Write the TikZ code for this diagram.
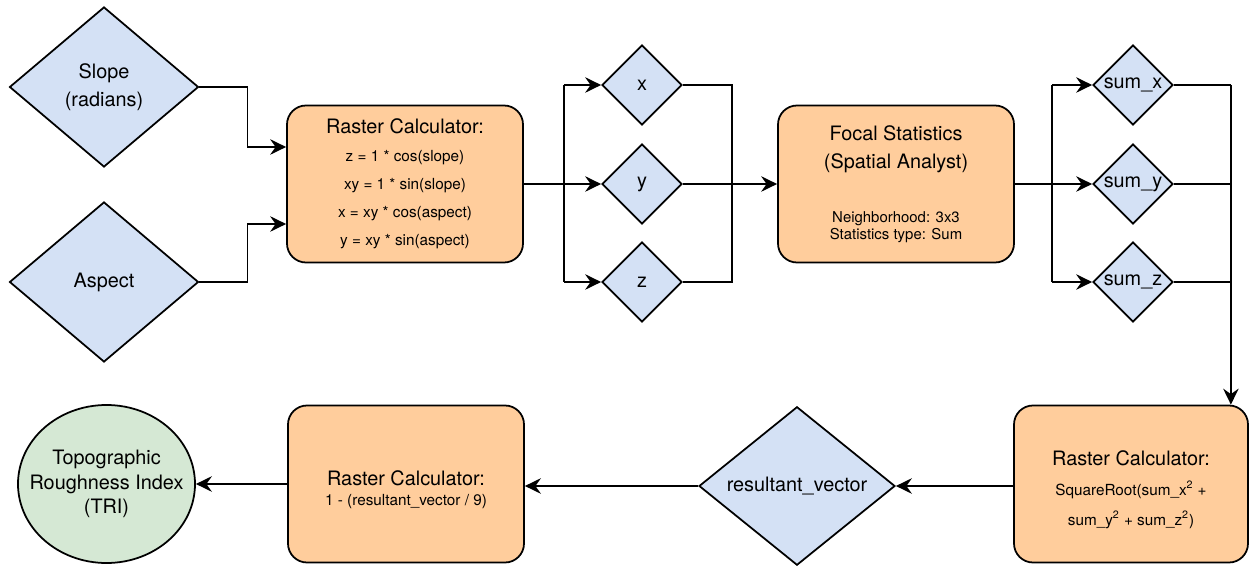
\documentclass[tikz,border=0pt]{standalone}
\usepackage{fontspec}
\setmainfont{TeX Gyre Heros}
\usetikzlibrary{arrows.meta, calc, positioning, shapes.geometric}
\definecolor{datacol}{RGB}{212, 225, 245}
\definecolor{toolcol}{RGB}{255, 205, 156}
\definecolor{outcol}{RGB}{213, 232, 212}
\definecolor{linecol}{RGB}{0, 0, 0}
\newcommand{\hd}{\fontsize{11.3}{14}\selectfont}
\newcommand{\lift}{\rule{0pt}{15pt}}
\tikzset{
  blk/.style    = {draw=linecol, line width=1pt, align=center},
  data/.style   = {blk, diamond, fill=datacol, inner sep=0pt,
                   font=\fontsize{11.3}{16}\selectfont},
  tool/.style   = {blk, rectangle, rounded corners=0.38cm, fill=toolcol,
                   minimum width=4.72cm, minimum height=3.14cm, inner sep=2pt},
  result/.style = {blk, ellipse, fill=outcol, inner sep=0pt,
                   minimum width=3.54cm, minimum height=3.16cm},
  flow/.style   = {-{Stealth[length=3.2mm, width=3.1mm, inset=1.1mm]},
                   draw=linecol, line width=1pt},
  link/.style   = {draw=linecol, line width=1pt},
}
\begin{document}
\begin{tikzpicture}

  \useasboundingbox (0,0) rectangle (25,-11.38);

  %% ---------------- inputs ----------------
  \node[data, minimum width=3.78cm, minimum height=3.2cm] (slope) at (2.08,-1.74)
       {Slope\\(radians)};
  \node[data, minimum width=3.78cm, minimum height=3.2cm] (aspect) at (2.08,-5.64)
       {Aspect};

  %% ---------------- first raster calculator ----------------
  \node[tool, font=\fontsize{8.7}{16}\selectfont] (calcA) at (8.1,-3.68)
       {{\hd Raster Calculator:}\\
        z = 1 * cos(slope)\\
        xy = 1 * sin(slope)\\
        x = xy * cos(aspect)\\
        y = xy * sin(aspect)};

  \draw[flow] (slope.east) -- ++(0.96,0) |- ([yshift=0.74cm]calcA.west);
  \draw[flow] (aspect.east) -- ++(0.96,0) |- ([yshift=-0.8cm]calcA.west);

  %% ---------------- x, y, z ----------------
  \foreach \n/\y/\t in {xd/-1.70/x, yd/-3.68/y, zd/-5.64/z} {
    \node[data, minimum width=1.6cm, minimum height=1.6cm] (\n) at (12.84,\y) {\t};
  }

  \draw[link] (calcA.east) -- ([xshift=-0.74cm]yd.west);
  \draw[link] ([xshift=-0.74cm]xd.west) -- ([xshift=-0.74cm]zd.west);
  \foreach \n in {xd, yd, zd}
    \draw[flow] ([xshift=-0.74cm]\n.west) -- (\n.west);
  \draw[link] (xd.east) -- ++(0.98,0) |- (zd.east);

  %% ---------------- focal statistics ----------------
  \node[tool, font=\fontsize{8.5}{9.6}\selectfont] (focal) at (17.92,-3.68)
       {{\hd Focal Statistics}\\[6.3pt]
        {\hd (Spatial Analyst)}\\[21pt]
        Neighborhood: 3x3\\
        Statistics type: Sum};
  \draw[flow] (yd.east) -- (focal.west);

  %% ---------------- sums ----------------
  \foreach \n/\y/\t in {sx/-1.70/sum\_x, sy/-3.68/sum\_y, sz/-5.64/sum\_z} {
    \node[data, minimum width=1.6cm, minimum height=1.6cm] (\n) at (22.66,\y) {\t};
  }
  \draw[link] (focal.east) -- ([xshift=-0.8cm]sy.west);
  \draw[link] ([xshift=-0.8cm]sx.west) -- ([xshift=-0.8cm]sz.west);
  \foreach \n in {sx, sy, sz}
    \draw[flow] ([xshift=-0.8cm]\n.west) -- (\n.west);

  %% ---------------- second raster calculator ----------------
  \node[tool, minimum width=4.68cm, font=\fontsize{8.7}{17}\selectfont] (calcB)
       at (22.62,-9.68)
       {{\hd\lift Raster Calculator:}\\
        SquareRoot(sum\_x\textsuperscript{2} +\\
        sum\_y\textsuperscript{2} + sum\_z\textsuperscript{2})};

  \draw[link] (sx.east) -- ++(1.14,0) coordinate (busd);
  \draw[link] (sy.east) -- (sy.east -| busd);
  \draw[link] (sz.east) -- (sz.east -| busd);
  \draw[flow] (busd) -- (busd |- calcB.north);

  %% ---------------- bottom row ----------------
  \node[data, minimum width=3.92cm, minimum height=3.16cm] (resv) at (15.94,-9.72)
       {resultant\_vector};
  \node[tool, font=\fontsize{8.7}{11}\selectfont] (calcC) at (8.12,-9.68)
       {{\hd\lift Raster Calculator:}\\
        1 - (resultant\_vector / 9)};
  \node[result] (tri) at (2.13,-9.68) {};
  \node[align=center, font=\fontsize{11.3}{14}\selectfont] (trilbl) at (tri)
       {Topographic\\Roughness Index\\(TRI)};

  \draw[flow] (calcB.west |- resv.east) -- (resv.east);
  \draw[flow] (resv.west) -- (resv.west -| calcC.east);
  \draw[flow] (calcC.west |- tri.east) -- (tri.east);

\end{tikzpicture}
\end{document}
